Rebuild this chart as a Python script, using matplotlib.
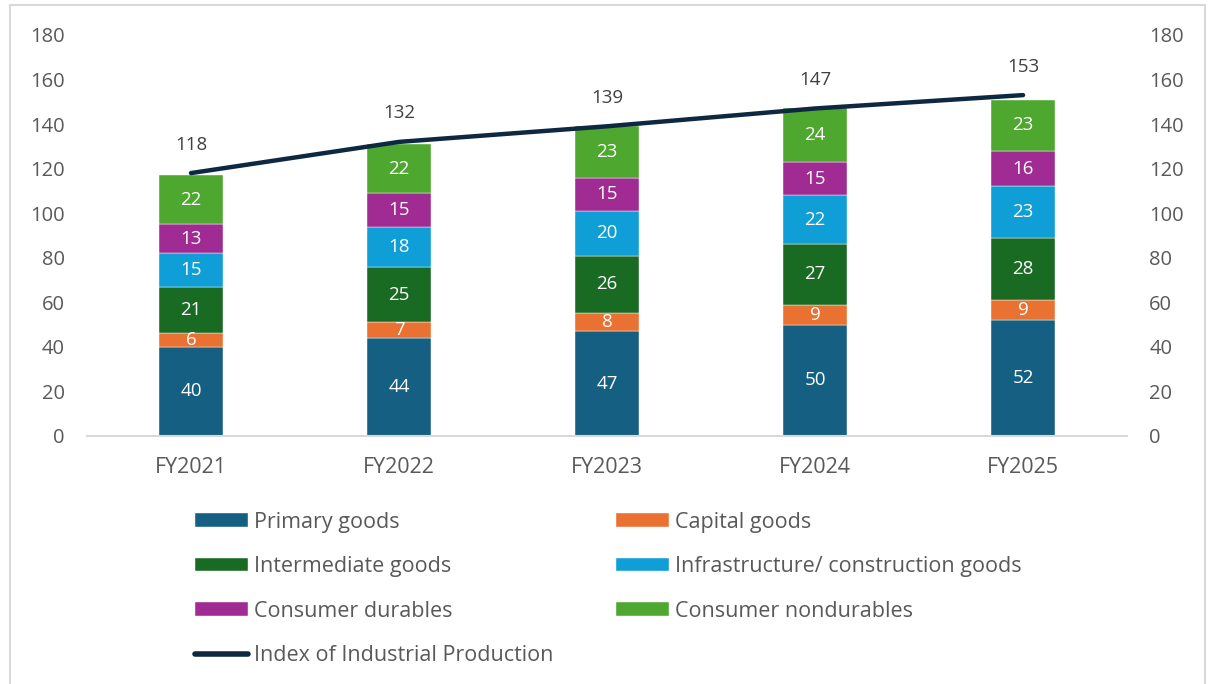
import numpy as np
import matplotlib.pyplot as plt
from matplotlib.patches import Rectangle
from matplotlib.lines import Line2D

plt.rcParams['font.family'] = ['Open Sans', 'DejaVu Sans']

years = ['FY2021', 'FY2022', 'FY2023', 'FY2024', 'FY2025']
primary = [40, 44, 47, 50, 52]
capital = [6, 7, 8, 9, 9]
intermediate = [21, 25, 26, 27, 28]
infrastructure = [15, 18, 20, 22, 23]
durables = [13, 15, 15, 15, 16]
nondurables = [22, 22, 23, 24, 23]
iip = [118, 132, 139, 147, 153]

series = [
    ('Primary goods', primary, '#156082'),
    ('Capital goods', capital, '#E97132'),
    ('Intermediate goods', intermediate, '#196B24'),
    ('Infrastructure/ construction goods', infrastructure, '#0F9ED5'),
    ('Consumer durables', durables, '#A02B93'),
    ('Consumer nondurables', nondurables, '#4EA72E'),
]

fig = plt.figure(figsize=(12.08, 6.84), dpi=100)
ax = fig.add_axes([0.072, 0.3626, 0.861, 0.5863])

x = np.arange(len(years))
bottom = np.zeros(len(years))
handles = {}
for name, vals, color in series:
    bars = ax.bar(x, vals, width=0.31, bottom=bottom, color=color,
                  edgecolor='white', linewidth=0.3, label=name)
    for xi, b, v in zip(x, bottom, vals):
        ax.text(xi, b + v / 2, str(v), ha='center', va='center',
                color='white', fontsize=13.5)
    handles[name] = bars
    bottom += np.array(vals)

ax.plot(x, iip, color='#0E2841', linewidth=3.2,
        solid_capstyle='round', label='Index of Industrial Production')
for xi, v in zip(x, iip):
    ax.annotate(str(v), (xi, v), xytext=(0, 14), textcoords='offset points',
                ha='center', va='bottom', color='#404040', fontsize=13.5)

ax.set_xlim(-0.5, len(years) - 0.5)
ax.set_ylim(0, 180)
ax.set_yticks(range(0, 181, 20))
ax.set_xticks(x)
ax.set_xticklabels(years)
for s in ax.spines.values():
    s.set_visible(False)
ax.axhline(0, color='#d9d9d9', linewidth=1.5, clip_on=False)
ax.tick_params(axis='y', length=0, labelsize=14.5, labelcolor='#595959', pad=16)
ax.tick_params(axis='x', length=0, labelsize=15.5, labelcolor='#595959', pad=15)

# same scale repeated on the right
ax2 = ax.twinx()
ax2.set_ylim(0, 180)
ax2.set_yticks(range(0, 181, 20))
for s in ax2.spines.values():
    s.set_visible(False)
ax2.tick_params(axis='y', length=0, labelsize=14.5, labelcolor='#595959', pad=16)

order = ['Primary goods', 'Intermediate goods', 'Consumer durables', None,
         'Capital goods', 'Infrastructure/ construction goods', 'Consumer nondurables']
hs, ls = [], []
for name in order:
    if name is None:
        hs.append(Line2D([], [], color='#0E2841', linewidth=4, solid_capstyle='round'))
        ls.append('Index of Industrial Production')
    else:
        hs.append(handles[name])
        ls.append(name)
fig.legend(hs, ls, ncol=2, loc='upper left', bbox_to_anchor=(0.1614, 0.252),
           frameon=False, fontsize=15.5, labelcolor='#595959',
           handlelength=2.45, handleheight=0.6, handletextpad=0.3,
           labelspacing=1.09, columnspacing=2.9, borderaxespad=0, borderpad=0)

# light frame around the whole chart
fig.patches.append(Rectangle((10 / 1208, -0.01), 1195 / 1208, 1 - 5 / 684 + 0.01,
                             transform=fig.transFigure, fill=False,
                             edgecolor='#d9d9d9', linewidth=1.5))

fig.savefig('out.png', dpi=100)
